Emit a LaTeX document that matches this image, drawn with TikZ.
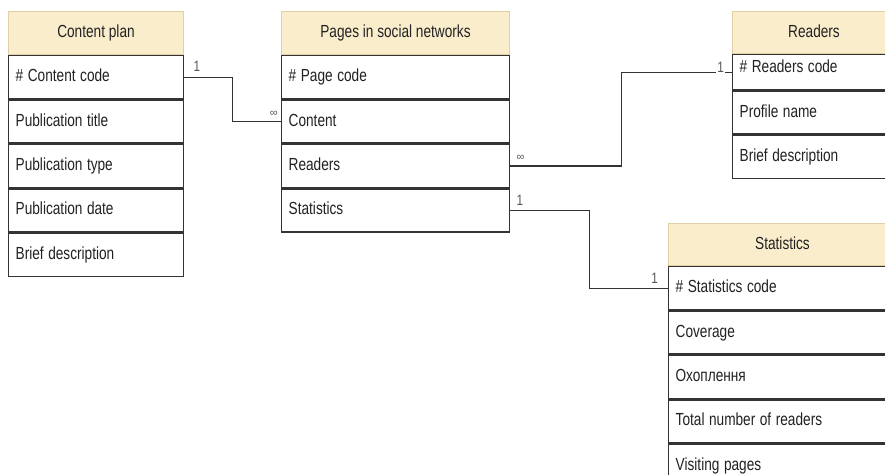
\documentclass[tikz,border=0pt]{standalone}
\usepackage{fontspec}
\setmainfont{Liberation Sans}
\usetikzlibrary{calc}

\definecolor{hdrfill}{RGB}{250,237,204}
\definecolor{hdrline}{RGB}{224,208,164}
\definecolor{rowline}{RGB}{51,51,51}
\definecolor{ink}{RGB}{34,34,34}
\definecolor{lbl}{RGB}{85,85,85}

% narrow set of the text face
\newcommand\nar[1]{\scalebox{0.78}[1]{#1}}

\begin{document}
\begin{tikzpicture}[x=1pt,y=-1pt,
  every node/.style={font=\fontsize{17.5}{20}\selectfont, text=ink},
  hdr/.style={draw=hdrline, line width=1pt, fill=hdrfill, anchor=north west,
    minimum height=43pt, inner sep=0pt, text height=12.5pt, text depth=3.5pt},
  field/.style={draw=rowline, line width=1.4pt, fill=white, anchor=north west,
    inner xsep=7pt, inner ysep=0pt, align=left, minimum height=43pt,
    text height=12.5pt, text depth=3.5pt},
  link/.style={draw=rowline, line width=1.4pt},
  card/.style={font=\fontsize{15}{18}\selectfont, text=lbl, inner sep=1pt},
  many/.style={font=\fontsize{11}{13}\selectfont, text=lbl, inner sep=1pt}]

\clip (0,0) rectangle (885,474);
\fill[white] (0,0) rectangle (885,474);

% Content plan
\node[hdr, minimum width=175pt] (cph) at (8,11) {\nar{Content plan}};
\node[field, text width=161pt] (cp1) at (cph.south west) {\nar{\# Content code}};
\node[field, text width=161pt] (cp2) at (cp1.south west) {\nar{Publication title}};
\node[field, text width=161pt] (cp3) at (cp2.south west) {\nar{Publication type}};
\node[field, text width=161pt] (cp4) at (cp3.south west) {\nar{Publication date}};
\node[field, text width=161pt] (cp5) at (cp4.south west) {\nar{Brief description}};

% Pages in social networks
\node[hdr, minimum width=228pt] (psh) at (281,11) {\nar{Pages in social networks}};
\node[field, text width=214pt] (ps1) at (psh.south west) {\nar{\# Page code}};
\node[field, text width=214pt] (ps2) at (ps1.south west) {\nar{Content}};
\node[field, text width=214pt] (ps3) at (ps2.south west) {\nar{Readers}};
\node[field, text width=214pt] (ps4) at (ps3.south west) {\nar{Statistics}};

% Readers (key row is shorter, its text sits high)
\node[hdr, minimum width=163pt, minimum height=42pt] (rdh) at (732,11) {\nar{Readers}};
\node[field, text width=149pt, minimum height=35pt, text depth=11pt] (rd1) at (rdh.south west) {\nar{\# Readers code}};
\node[field, text width=149pt] (rd2) at (rd1.south west) {\nar{Profile name}};
\node[field, text width=149pt] (rd3) at (rd2.south west) {\nar{Brief description}};

% Statistics
\node[hdr, minimum width=228pt, minimum height=42pt] (sth) at (668,223) {\nar{Statistics}};
\node[field, text width=214pt] (st1) at (sth.south west) {\nar{\# Statistics code}};
\node[field, text width=214pt] (st2) at (st1.south west) {\nar{Coverage}};
\node[field, text width=214pt] (st3) at (st2.south west) {\nar{Охоплення}};
\node[field, text width=214pt] (st4) at (st3.south west) {\nar{Total number of readers}};
\node[field, text width=214pt] (st5) at (st4.south west) {\nar{Visiting pages}};

% relations
\draw[link] (cp1.east) -| ($(cp1.east)!.5!(ps2.west)$) |- (ps2.west);
\draw[link] (ps3.east) -| ($(ps3.east)!.5!(rd1.west)$) |- (rd1.west);
\draw[link] (ps4.east) -| ($(ps4.east)!.5!(st1.west)$) |- (st1.west);

% cardinalities
\node[card, anchor=south west] (c1) at ($(cp1.east)+(8,-5)$) {\nar{1}};
\node[many, anchor=south east] (c2) at ($(ps2.west)+(-2,-4)$) {∞};
\node[many, anchor=south west] (c3) at ($(ps3.east)+(5,-4)$) {∞};
\node[card, anchor=south west] (c4) at ($(ps4.east)+(5,-4)$) {\nar{1}};
\node[card, anchor=south east, fill=white] (c5) at ($(rd1.west)+(-7,1)$) {\nar{1}};
\node[card, anchor=south east] (c6) at ($(st1.west)+(-9,-4)$) {\nar{1}};
\end{tikzpicture}
\end{document}
